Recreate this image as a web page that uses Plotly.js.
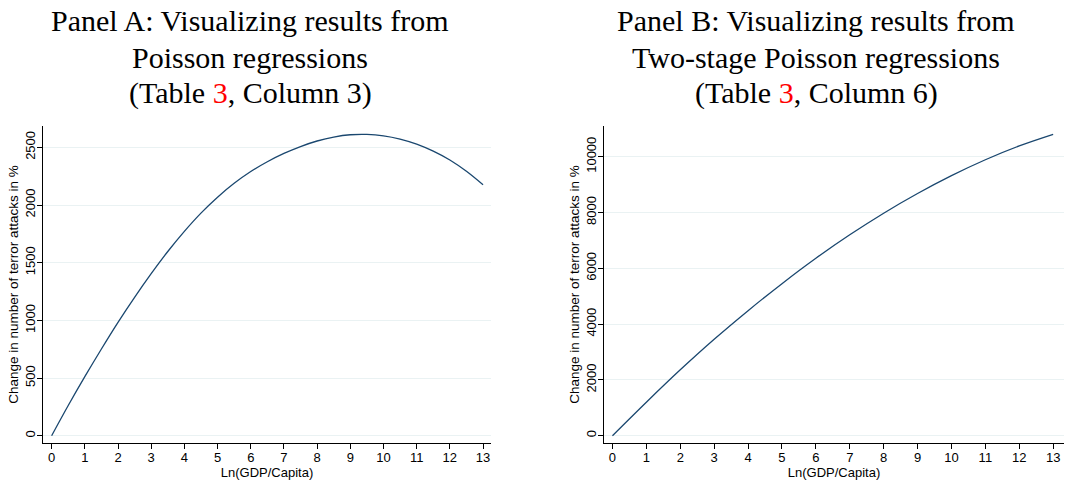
<!DOCTYPE html>
<html>
<head>
<meta charset="utf-8">
<script src="https://cdn.plot.ly/plotly-3.0.1.min.js"></script>
<style>html,body{margin:0;padding:0;background:#fff;}#chart{width:1068px;height:483px;}</style>
</head>
<body>
<div id="chart"></div>
<script>
// Data
const lnGdpA = [0, 0.5, 1, 1.5, 2, 2.5, 3, 3.5, 4, 4.5, 5, 5.5, 6, 6.5, 7, 7.5, 8, 8.5, 9, 9.5, 10, 10.5, 11, 11.5, 12, 12.5, 13];
const panelA = [0, 262, 512, 752, 983, 1200, 1405, 1597, 1772, 1930, 2068, 2188, 2290, 2375, 2447, 2507, 2555, 2589, 2609, 2612, 2600, 2572, 2528, 2467, 2390, 2292, 2175];
const lnGdpB = [0, 1, 2, 3, 4, 5, 6, 7, 8, 9, 10, 11, 12, 13];
const panelB = [0, 1200, 2360, 3455, 4480, 5450, 6360, 7200, 7975, 8680, 9320, 9890, 10385, 10800];
const xTicks = [0, 1, 2, 3, 4, 5, 6, 7, 8, 9, 10, 11, 12, 13];
const yTicksA = [0, 500, 1000, 1500, 2000, 2500];
const yTicksB = [0, 2000, 4000, 6000, 8000, 10000];
const titleA = ['Panel A: Visualizing results from', 'Poisson regressions', '(Table <span style="color:#ff0000">3</span>, Column 3)'];
const titleB = ['Panel B: Visualizing results from', 'Two-stage Poisson regressions', '(Table <span style="color:#ff0000">3</span>, Column 6)'];
const xTitle = 'Ln(GDP/Capita)';
const yTitle = 'Change in number of terror attacks in %';

const lineColor = '#1a476f';
const sans = 'Liberation Sans, Arial, sans-serif';
const serif = 'Liberation Serif, serif';

const traces = [
  {x: lnGdpA, y: panelA, type: 'scatter', mode: 'lines', line: {color: lineColor, width: 1.3, shape: 'spline', smoothing: 1}, xaxis: 'x', yaxis: 'y', hoverinfo: 'skip'},
  {x: lnGdpB, y: panelB, type: 'scatter', mode: 'lines', line: {color: lineColor, width: 1.3, shape: 'spline', smoothing: 1}, xaxis: 'x2', yaxis: 'y2', hoverinfo: 'skip'}
];

function xax(domain, anchor, range) {
  return {
    domain: domain, anchor: anchor, range: range, tickvals: xTicks, ticktext: xTicks.map(String),
    showgrid: false, zeroline: false, showline: true, linecolor: '#000', linewidth: 1.2,
    ticks: 'outside', ticklen: 5, tickcolor: '#000', tickwidth: 1,
    ticklabelstandoff: -3,
    tickfont: {family: sans, size: 13, color: '#000'},
    title: {text: xTitle, font: {family: sans, size: 13, color: '#000'}, standoff: 0},
    automargin: false, fixedrange: true
  };
}
function yax(domain, anchor, ticks, range) {
  return {
    domain: domain, anchor: anchor, range: range, tickvals: ticks, ticktext: ticks.map(String),
    tickangle: -90, showgrid: true, gridcolor: '#eaf2f3', gridwidth: 1, zeroline: false,
    showline: true, linecolor: '#000', linewidth: 1.2,
    ticks: 'outside', ticklen: 5, tickcolor: '#000', tickwidth: 1,
    ticklabelstandoff: -3,
    tickfont: {family: sans, size: 13, color: '#000'},
    title: {text: yTitle, font: {family: sans, size: 13.5, color: '#000'}, standoff: 0},
    automargin: false, fixedrange: true
  };
}

function titleLines(lines, cx) {
  const ys = [21, 57, 93];
  return lines.map((t, i) => ({
    text: t, xref: 'paper', yref: 'paper', x: cx / 1068, y: 1 - ys[i] / 483,
    xanchor: 'center', yanchor: 'middle', showarrow: false, align: 'center',
    font: {family: serif, size: 30, color: '#000'}
  }));
}

const yDom = [1 - 443/483, 1 - 126/483];
const layout = {
  width: 1068, height: 483,
  margin: {l: 0, r: 0, t: 0, b: 0},
  paper_bgcolor: '#fff', plot_bgcolor: '#fff',
  showlegend: false,
  xaxis: xax([43/1068, 491/1068], 'y', [-0.26, 13.24]),
  yaxis: yax(yDom, 'x', yTicksA, [-63, 2685]),
  xaxis2: xax([604/1068, 1064/1068], 'y2', [-0.25, 13.32]),
  yaxis2: yax(yDom, 'x2', yTicksB, [-262, 11100]),
  annotations: titleLines(titleA, 250).concat(titleLines(titleB, 816))
};

Plotly.newPlot('chart', traces, layout, {staticPlot: true, displayModeBar: false});
</script>
</body>
</html>
